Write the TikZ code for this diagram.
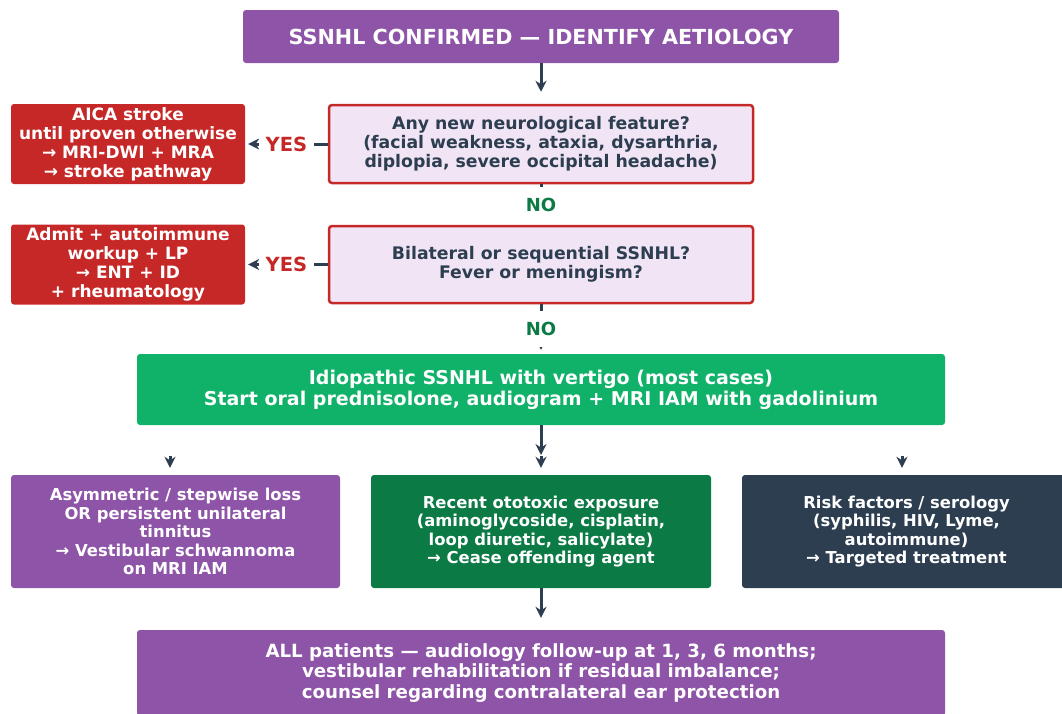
\documentclass[tikz,border=0pt]{standalone}
\usepackage{fontspec}
\setmainfont{DejaVu Sans}
\usepackage{tikz}
\usetikzlibrary{arrows.meta}
\definecolor{purpblock}{RGB}{142, 84, 167}
\definecolor{redblock}{RGB}{198, 40, 40}
\definecolor{qblock}{RGB}{240, 228, 245}
\definecolor{greenblock}{RGB}{16, 178, 106}
\definecolor{dgreenblock}{RGB}{11, 122, 69}
\definecolor{navyblock}{RGB}{44, 62, 80}

\begin{document}
\begin{tikzpicture}[x=1pt, y=-1pt,
		box/.style={rectangle, rounded corners=3pt, align=center, text=white, inner sep=0pt, font=\bfseries\fontsize{17}{19}\selectfont},
		qbox/.style={box, fill=qblock, draw=redblock, line width=2.5pt, text=navyblock, font=\bfseries\fontsize{17.3}{19}\selectfont},
		rbox/.style={box, fill=redblock, minimum width=234pt, minimum height=80pt},
		lowbox/.style={box, minimum width=330pt, minimum height=113pt, font=\bfseries\fontsize{16.4}{18.5}\selectfont},
		arr/.style={-{Stealth[length=11pt, width=11pt]}, line width=3pt, draw=navyblock},
		yeslbl/.style={fill=white, text=redblock, inner xsep=7pt, font=\bfseries\fontsize{19.5}{21}\selectfont},
		nolbl/.style={fill=white, text=dgreenblock, inner ysep=11pt, font=\bfseries\fontsize{18}{20}\selectfont}]
	\useasboundingbox (0,0) rectangle (1062,713);
	
	\node[box, fill=purpblock, minimum width=596pt, minimum height=53pt, font=\bfseries\fontsize{20.7}{22}\selectfont] (title) at (541,36.5) {SSNHL CONFIRMED — IDENTIFY AETIOLOGY};
	
	\node[qbox, minimum width=424pt, minimum height=78pt] (q1) at (541,144) {Any new neurological feature?\\(facial weakness, ataxia, dysarthria,\\diplopia, severe occipital headache)};
	\node[qbox, minimum width=424pt, minimum height=77pt] (q2) at (541,264.5) {Bilateral or sequential SSNHL?\\Fever or meningism?};
	
	\node[rbox] (r1) at (128,144) {AICA stroke\\until proven otherwise\\→ MRI-DWI + MRA\\→ stroke pathway};
	\node[rbox] (r2) at (128,264.5) {Admit + autoimmune\\workup + LP\\→ ENT + ID\\+ rheumatology};
	
	\node[box, fill=greenblock, minimum width=808pt, minimum height=71pt, font=\bfseries\fontsize{19}{21}\selectfont] (idio) at (541,389.5) {Idiopathic SSNHL with vertigo (most cases)\\Start oral prednisolone, audiogram + MRI IAM with gadolinium};
	
	\node[lowbox, fill=purpblock, minimum width=329pt] (b1) at (175.5,531.5) {Asymmetric / stepwise loss\\OR persistent unilateral\\tinnitus\\→ Vestibular schwannoma\\on MRI IAM};
	\node[lowbox, fill=dgreenblock, minimum width=340pt] (b2) at (541,531.5) {Recent ototoxic exposure\\(aminoglycoside, cisplatin,\\loop diuretic, salicylate)\\→ Cease offending agent};
	\node[lowbox, fill=navyblock, minimum width=329pt] (b3) at (906.5,531.5) {Risk factors / serology\\(syphilis, HIV, Lyme,\\autoimmune)\\→ Targeted treatment};
	
	\node[box, fill=purpblock, minimum width=808pt, minimum height=86pt, font=\bfseries\fontsize{18.2}{20.5}\selectfont] (allpt) at (541,673) {ALL patients — audiology follow-up at 1, 3, 6 months;\\vestibular rehabilitation if residual imbalance;\\counsel regarding contralateral ear protection};
	
	\coordinate (c0) at (541,455);
	\coordinate (h1) at (170,456);
	\coordinate (h2) at (541,456);
	\coordinate (h3) at (902,456);
	
	\draw[arr, shorten >=12pt] (title) -- (q1);
	\draw[arr, shorten >=3pt] (q1) -- node[yeslbl] {YES} (r1);
	\draw[arr, shorten >=3pt] (q2) -- node[yeslbl] {YES} (r2);
	\draw[arr, shorten >=4pt] (q1) -- node[nolbl] {NO} (q2);
	\draw[arr, shorten >=4pt] (q2) -- node[nolbl] {NO} (idio);
	\draw[arr] (idio) -- (c0);
	\draw[arr, shorten >=7pt] (h1) -- (h1 |- b1.north);
	\draw[arr, shorten >=7pt] (h2) -- (b2);
	\draw[arr, shorten >=7pt] (h3) -- (h3 |- b3.north);
	\draw[arr, shorten >=12pt] (b2) -- (allpt);
\end{tikzpicture}
\end{document}
